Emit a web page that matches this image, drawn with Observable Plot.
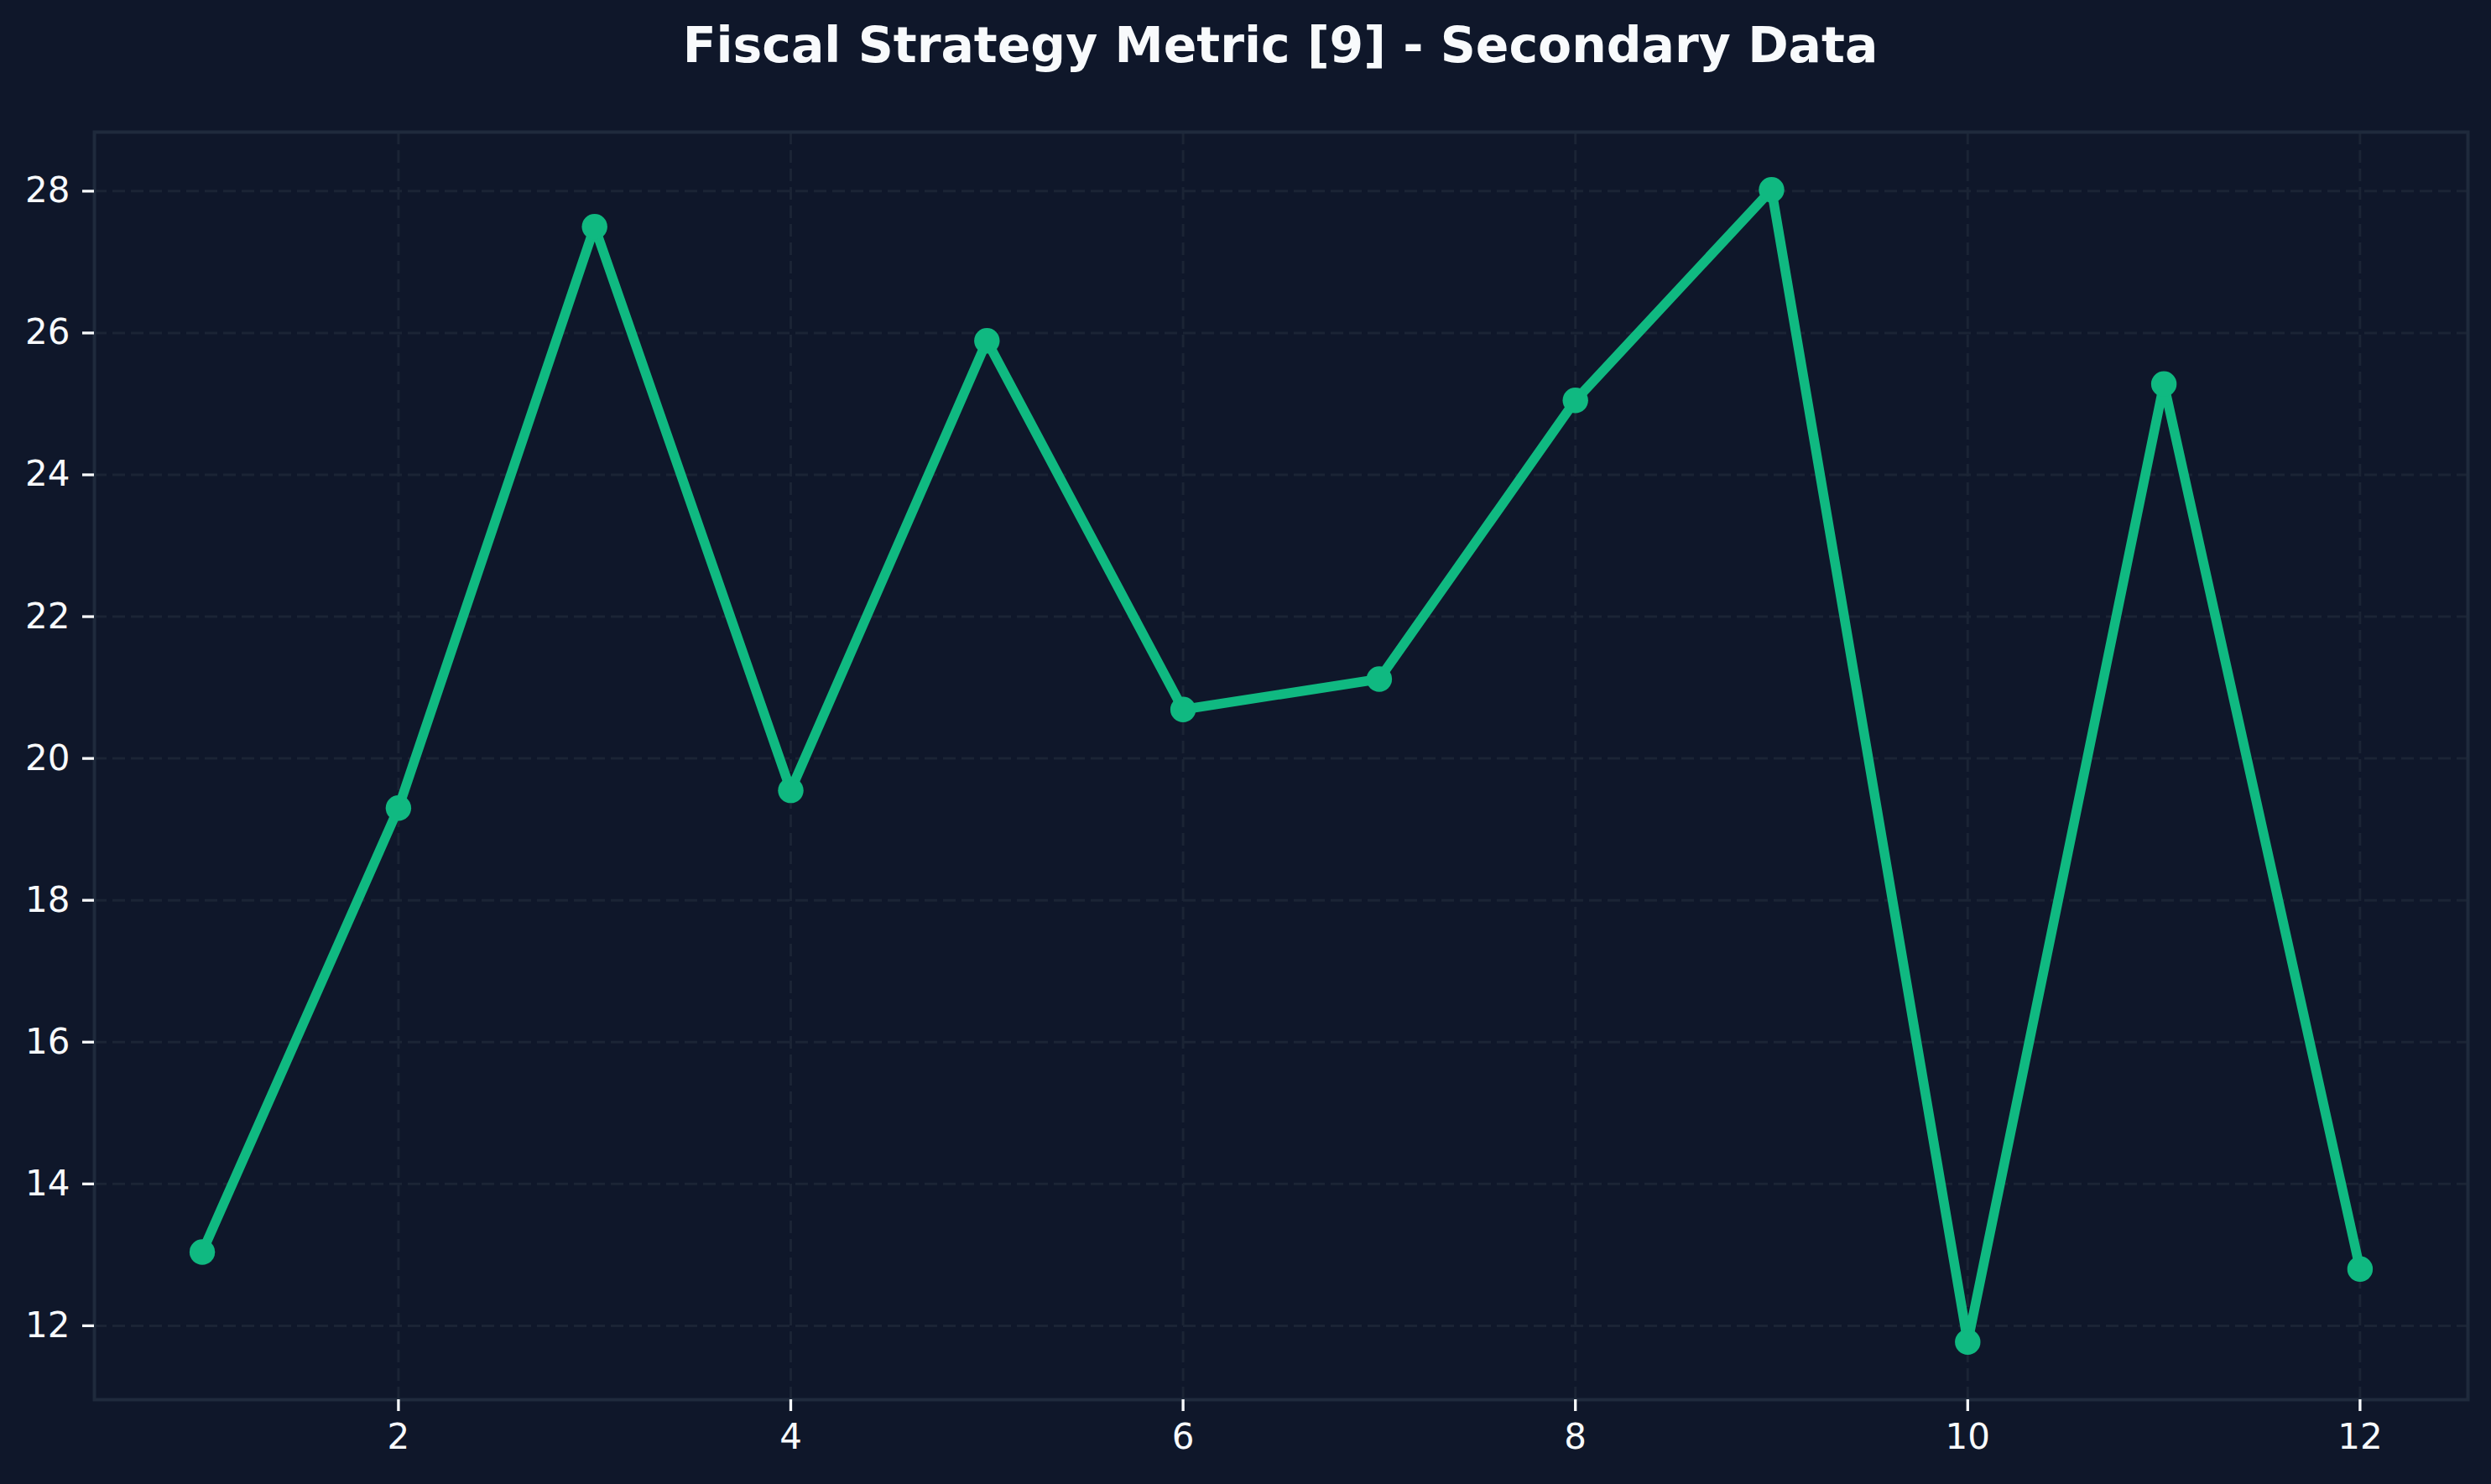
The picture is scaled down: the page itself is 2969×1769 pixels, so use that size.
<!DOCTYPE html>
<html>
<head>
<meta charset="utf-8">
<script src="https://cdn.jsdelivr.net/npm/d3@7"></script>
<script src="https://cdn.jsdelivr.net/npm/@observablehq/plot@0.6"></script>
<style>
  html, body { margin: 0; padding: 0; background: #0f172a; }
  #wrap { position: relative; width: 2969px; height: 1769px; background: #0f172a; overflow: hidden; }
  #title { position: absolute; left: 112px; width: 2828px; top: 0; height: 100px; line-height: 100px; padding-top: 4px; box-sizing: border-box;
           text-align: center; font-family: "DejaVu Sans", sans-serif; font-weight: bold; font-size: 58.4px; color: #f8fafc; }
  #chart { position: absolute; left: 0; top: 100px; }
</style>
</head>
<body>
<div id="wrap">
  <div id="title">Fiscal Strategy Metric [9] - Secondary Data</div>
  <div id="chart"></div>
</div>
<script>
const periods = [1, 2, 3, 4, 5, 6, 7, 8, 9, 10, 11, 12];
const values = [13.04, 19.30, 27.50, 19.55, 25.89, 20.69, 21.12, 25.05, 28.02, 11.77, 25.28, 12.80];
const xTicks = [2, 4, 6, 8, 10, 12];
const yTicks = [12, 14, 16, 18, 20, 22, 24, 26, 28];

const data = periods.map((p, i) => ({period: p, value: values[i]}));

const pad = (lo, hi) => { const r = hi - lo; return [lo - 0.05 * r, hi + 0.05 * r]; };
const xDomain = pad(d3.min(periods), d3.max(periods));
const yDomain = pad(d3.min(values), d3.max(values));

const textColor = "#f8fafc";
const gridColor = "#1b2435";
const lineColor = "#10b981";

const chart = Plot.plot({
  width: 2969,
  height: 1669,
  marginLeft: 112,
  marginRight: 28,
  marginTop: 57,
  marginBottom: 101,
  style: { background: "#0f172a", fontFamily: "DejaVu Sans, sans-serif", color: textColor },
  x: { domain: xDomain },
  y: { domain: yDomain },
  marks: [
    Plot.gridX(xTicks, { stroke: gridColor, strokeOpacity: 1, strokeWidth: 3, strokeDasharray: "15,7" }),
    Plot.gridY(yTicks, { stroke: gridColor, strokeOpacity: 1, strokeWidth: 3, strokeDasharray: "15,7" }),
    Plot.frame({ stroke: "#1f2a3c", strokeWidth: 4 }),
    Plot.axisX(xTicks, { tickSize: 14, tickPadding: 15, fontSize: 42, stroke: textColor, strokeWidth: 3.3, fill: textColor, label: null, tickFormat: d => String(d) }),
    Plot.axisY(yTicks, { tickSize: 14, tickPadding: 15, fontSize: 42, stroke: textColor, strokeWidth: 3.3, fill: textColor, label: null, tickFormat: d => String(d) }),
    Plot.line(data, { x: "period", y: "value", stroke: lineColor, strokeWidth: 11.5, strokeLinejoin: "round", strokeLinecap: "butt" }),
    Plot.dot(data, { x: "period", y: "value", r: 15.2, fill: lineColor, stroke: "none" })
  ]
});
document.getElementById("chart").appendChild(chart);
</script>
</body>
</html>
